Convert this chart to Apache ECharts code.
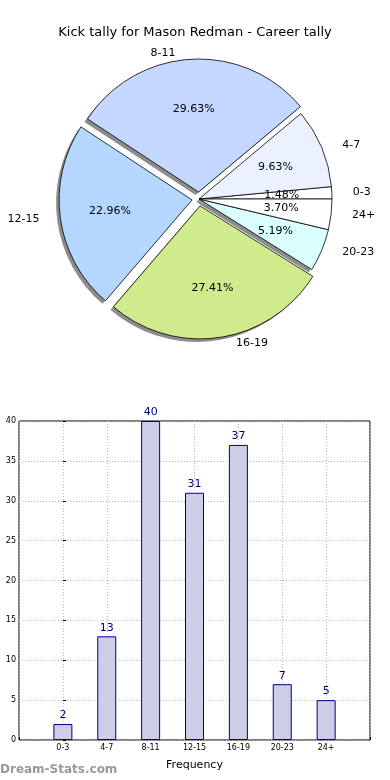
<!DOCTYPE html>
<html><head><meta charset="utf-8">
<script src="https://cdn.jsdelivr.net/npm/echarts@6/dist/echarts.min.js"></script>
<style>html,body{margin:0;padding:0;background:#fff}#c{width:390px;height:780px}</style>
</head><body><div id="c"></div>
<script>
const titleText = 'Kick tally for Mason Redman - Career tally';
const categories = ['0-3','4-7','8-11','12-15','16-19','20-23','24+'];
const tallies = [2, 13, 40, 31, 37, 7, 5];
const pieColors = ['#ffffff','#ebf1ff','#c4d8ff','#b4d6ff','#d0eb8b','#dbffff','#ffffff'];
const exploded = ['8-11','12-15','16-19'];
const yTicks = [0,5,10,15,20,25,30,35,40];
const xAxisName = 'Frequency';
const watermark = 'Dream-Stats.com';

const total = tallies.reduce((a,b)=>a+b,0);
const font = 'DejaVu Sans';
const R = 133;
const C = [199, 199];
const SH = [-3, 3];

const mk = (withColor) => categories.map((c,i)=>{
  const d = {name: c, value: tallies[i], selected: exploded.includes(c)};
  if (withColor) d.itemStyle = {color: pieColors[i]};
  return d;
});

const common = {type:'pie', radius: R, clockwise: false, startAngle: 0,
  selectedMode: 'multiple', selectedOffset: 7, avoidLabelOverlap: false, silent: true,
  emphasis:{disabled:true}};

const chart = echarts.init(document.getElementById('c'), null, {renderer:'canvas'});
chart.setOption({
  animation: false,
  title: {text: titleText, left: 'center', top: 21,
    textStyle: {fontFamily: font, fontSize: 13, fontWeight: 'normal', color: '#000'}},
  graphic: [{type:'text', left: 0, top: 764,
    style:{text: watermark, font: 'bold 12px "DejaVu Sans"', fill:'#9a9a9a'}}],
  grid: {left: 19, right: 20, top: 421, bottom: 40, show: true, borderColor: '#000', borderWidth: 1},
  xAxis: {type:'value', min:-1, max: categories.length, interval: 1,
    name: xAxisName, nameLocation:'middle', nameGap: 20,
    nameTextStyle:{fontFamily: font, fontSize: 11, color:'#000'},
    axisLine:{show:false}, axisTick:{show:true, inside:true, length:3, lineStyle:{color:'#000'}},
    axisLabel:{fontFamily: font, fontSize: 8, color:'#000', margin: 4,
      formatter: v => categories[v] !== undefined ? categories[v] : ''},
    splitLine:{show:true, lineStyle:{color:'#b8b8b8', type:[1,2], width:1}}},
  yAxis: {type:'value', min: yTicks[0], max: yTicks[yTicks.length-1], interval: yTicks[1]-yTicks[0],
    axisLine:{show:false}, axisTick:{show:true, inside:true, length:3, lineStyle:{color:'#000'}},
    axisLabel:{fontFamily: font, fontSize: 8, color:'#000', margin: 3},
    splitLine:{show:true, lineStyle:{color:'#b8b8b8', type:[1,2], width:1}}},
  series: [
    Object.assign({}, common, {center: [C[0]+SH[0], C[1]+SH[1]], data: mk(false),
      itemStyle: {color:'#8c8c8c', borderWidth: 0},
      select: {itemStyle: {color:'#8c8c8c', borderWidth: 0}},
      label: {show:false}, labelLine:{show:false}}),
    Object.assign({}, common, {center: C, data: mk(true),
      itemStyle: {borderColor:'#000', borderWidth: 0.8},
      select: {itemStyle: {borderColor:'#000', borderWidth: 0.8}},
      label: {show:true, position:'outside', formatter:'{b}', fontFamily: font, fontSize: 11, color:'#000'},
      labelLine: {show:false, length: 6, length2: 10}}),
    Object.assign({}, common, {center: C, radius: [R*0.2, R], data: mk(false),
      itemStyle: {color:'rgba(0,0,0,0)', borderWidth: 0},
      select: {itemStyle: {color:'rgba(0,0,0,0)', borderWidth: 0}},
      label: {show:true, position:'inside', fontFamily: font, fontSize: 11, color:'#000',
        formatter: p => (p.value/total*100).toFixed(2) + '%'},
      labelLine: {show:false}}),
    {type:'bar', data: tallies.map((v,i)=>[i, v]), barWidth: 19,
      itemStyle:{color:'#cdcde6', borderColor:'#000080', borderWidth: 1},
      label:{show:true, position:'top', fontFamily: font, fontSize: 11, color:'#000080', distance: 3},
      emphasis:{disabled:true}
    }
  ]
});
</script></body></html>
